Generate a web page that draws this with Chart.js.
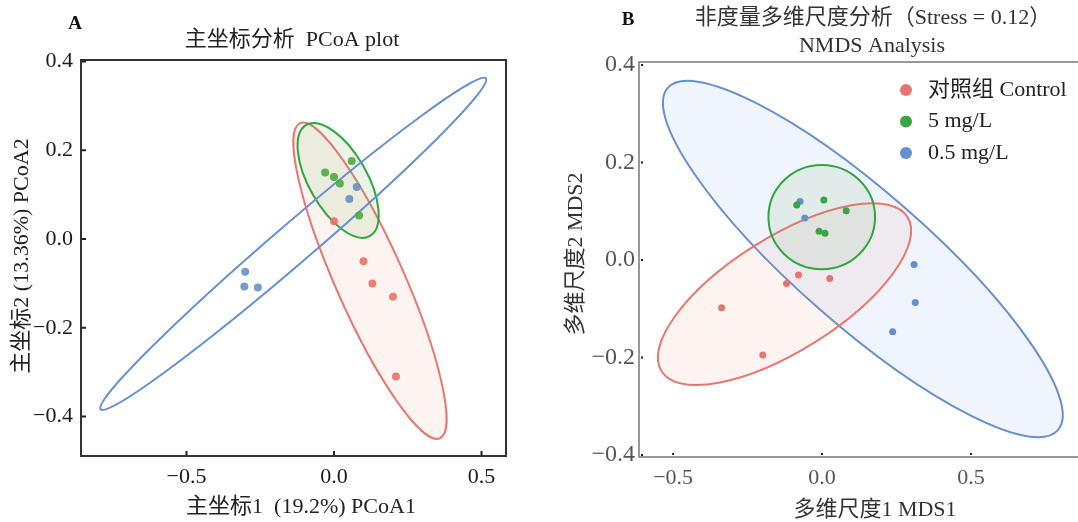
<!DOCTYPE html>
<html>
<head>
<meta charset="utf-8">
<script src="https://cdn.jsdelivr.net/npm/chart.js@4.4.1/dist/chart.umd.min.js"></script>
<style>
  html, body { margin: 0; padding: 0; background: #fff; overflow: hidden; }
  #pcoa { position: absolute; left: 0; top: 0; }
  #nmds { position: absolute; left: 539px; top: 0; }
</style>
</head>
<body>
<canvas id="pcoa" width="539" height="522"></canvas>
<canvas id="nmds" width="571" height="522"></canvas>
<script>
// 分组
const groupLabels = ['对照组 Control', '5 mg/L', '0.5 mg/L'];

// A: PCoA 样本坐标 [x, y]
const pcoaControl = [[0.00, 0.04], [0.10, -0.05], [0.13, -0.10], [0.20, -0.13], [0.21, -0.31]];
const pcoa5mg = [[-0.03, 0.15], [0.00, 0.14], [0.02, 0.125], [0.06, 0.176], [0.085, 0.053]];
const pcoa05mg = [[0.077, 0.117], [0.052, 0.090], [-0.301, -0.074], [-0.304, -0.107], [-0.258, -0.109]];

// 置信椭圆: [中心x, 中心y, 长轴端点x, 长轴端点y, 短轴端点x, 短轴端点y]
const pcoaEllControl = [0.122, -0.094, 0.359, -0.449, 0.228, -0.063];
const pcoaEll5mg = [0.014, 0.132, 0.122, 0.007, 0.099, 0.165];
const pcoaEll05mg = [-0.138, -0.011, 0.515, 0.362, -0.095, -0.044];

// B: NMDS 样本坐标
const nmdsControl = [[-0.079, -0.031], [-0.119, -0.048], [0.026, -0.038], [-0.337, -0.098], [-0.199, -0.195]];
const nmds5mg = [[-0.085, 0.113], [0.006, 0.123], [0.081, 0.101], [-0.010, 0.059], [0.010, 0.055]];
const nmds05mg = [[-0.074, 0.120], [-0.058, 0.086], [0.309, -0.009], [0.313, -0.087], [0.237, -0.147]];

const nmdsEllControl = [-0.126, -0.070, 0.287, 0.088, -0.025, -0.169];
const nmdsEll5mg = [-0.001, 0.088, 0.178, 0.088, -0.001, 0.195];
const nmdsEll05mg = [0.137, 0.002, 0.792, -0.349, 0.284, 0.104];

// 颜色
const cRed = '#E8776F', cGreen = '#2FA740', cBlue = '#6690D0';
const serif = '"Liberation Serif", "Noto Sans CJK SC", serif';

const fmt = v => (v < 0 ? '\u2212' : '') + Math.abs(v).toFixed(1);
const toPts = arr => arr.map(p => ({ x: p[0], y: p[1] }));

// 椭圆插件：用坐标轴换算中心和两个半轴端点，再画出椭圆
const ellipsePlugin = {
  id: 'ellipses',
  beforeDatasetsDraw(chart, args, opts) {
    const { ctx, chartArea } = chart;
    const sx = chart.scales.x, sy = chart.scales.y;
    ctx.save();
    ctx.beginPath();
    ctx.rect(chartArea.left, chartArea.top, chartArea.width, chartArea.height);
    ctx.clip();
    opts.items.forEach(e => {
      const [cx, cy, ax, ay, bx, by] = e.data;
      const px = sx.getPixelForValue(cx), py = sy.getPixelForValue(cy);
      const ux = sx.getPixelForValue(ax) - px, uy = sy.getPixelForValue(ay) - py;
      const vx = sx.getPixelForValue(bx) - px, vy = sy.getPixelForValue(by) - py;
      ctx.save();
      ctx.transform(ux, uy, vx, vy, px, py);
      ctx.beginPath();
      ctx.arc(0, 0, 1, 0, Math.PI * 2);
      ctx.restore();
      if (e.fill) { ctx.fillStyle = e.fill; ctx.fill(); }
      ctx.lineWidth = e.width;
      ctx.strokeStyle = e.stroke;
      ctx.stroke();
    });
    ctx.restore();
  }
};

// 边框和向内的刻度线
const framePlugin = {
  id: 'frame',
  afterDatasetsDraw(chart, args, o) {
    const { ctx, chartArea: a } = chart;
    const sx = chart.scales.x, sy = chart.scales.y;
    ctx.save();
    ctx.strokeStyle = o.color;
    ctx.lineWidth = o.width;
    ctx.strokeRect(a.left, a.top, a.right - a.left, a.bottom - a.top);
    ctx.fillStyle = o.tickColor;
    sy.ticks.forEach(t => {
      const y = sy.getPixelForValue(t.value);
      ctx.fillRect(a.left + o.tickGap, y - 1, o.tickLen, 2);
    });
    sx.ticks.forEach(t => {
      const x = sx.getPixelForValue(t.value);
      ctx.fillRect(x - 1, a.bottom - o.tickGap - o.tickLen, 2, o.tickLen);
    });
    ctx.restore();
  }
};

// 标题、轴标题、图例
const textPlugin = {
  id: 'panelText',
  afterDraw(chart, args, o) {
    const ctx = chart.ctx;
    ctx.save();
    ctx.textAlign = 'center';
    ctx.textBaseline = 'middle';
    o.items.forEach(t => {
      ctx.save();
      ctx.font = t.font;
      ctx.fillStyle = t.color;
      ctx.translate(t.x, t.y);
      if (t.rotate) ctx.rotate(t.rotate);
      ctx.fillText(t.text, 0, 0);
      ctx.restore();
    });
    if (o.legend) {
      const L = o.legend;
      chart.data.datasets.forEach((ds, i) => {
        const y = L.y + i * L.gap;
        ctx.beginPath();
        ctx.arc(L.x, y, L.r, 0, Math.PI * 2);
        ctx.fillStyle = ds.backgroundColor;
        ctx.fill();
        ctx.textAlign = 'left';
        ctx.font = L.font;
        ctx.fillStyle = L.color;
        ctx.fillText(ds.label, L.x + L.textGap, y);
      });
    }
    ctx.restore();
  }
};

function scaleOpts(min, max, step, fontSize, color, pad, fitSize, horizontal) {
  return {
    type: 'linear',
    min: min,
    max: max,
    grid: { display: false, drawTicks: false },
    border: { display: false },
    ticks: {
      stepSize: step,
      includeBounds: false,
      padding: pad,
      color: color,
      font: { family: serif, size: fontSize },
      callback: fmt
    },
    afterFit(s) {
      if (horizontal) s.height = fitSize; else s.width = fitSize;
    }
  };
}

// A: PCoA
new Chart(document.getElementById('pcoa'), {
  type: 'scatter',
  data: {
    datasets: [
      { label: groupLabels[0], data: toPts(pcoaControl), backgroundColor: 'rgba(232,114,106,0.9)' },
      { label: groupLabels[1], data: toPts(pcoa5mg), backgroundColor: 'rgba(72,168,60,0.88)' },
      { label: groupLabels[2], data: toPts(pcoa05mg), backgroundColor: 'rgba(100,140,200,0.88)' }
    ]
  },
  options: {
    responsive: false,
    animation: false,
    devicePixelRatio: 1,
    layout: { padding: { top: 60, right: 33, left: 0, bottom: 0 } },
    elements: { point: { radius: 4, borderWidth: 0, hoverRadius: 4 } },
    scales: {
      x: scaleOpts(-0.8576, 0.583, 0.5, 22, '#1a1a1a', 8, 66, true),
      y: scaleOpts(-0.489, 0.4034, 0.2, 22, '#1a1a1a', 8, 81, false)
    },
    plugins: {
      legend: { display: false },
      tooltip: { enabled: false },
      ellipses: {
        items: [
          { data: pcoaEllControl, stroke: cRed, fill: 'rgba(238,130,112,0.09)', width: 2 },
          { data: pcoaEll5mg, stroke: cGreen, fill: 'rgba(120,180,100,0.14)', width: 2 },
          { data: pcoaEll05mg, stroke: cBlue, fill: null, width: 2 }
        ]
      },
      frame: { color: '#333', width: 2, tickColor: '#222', tickLen: 4, tickGap: 1 },
      panelText: {
        items: [
          { text: 'A', x: 75, y: 24, font: 'bold 19px ' + serif, color: '#111' },
          { text: '主坐标分析  PCoA plot', x: 292, y: 40, font: '22px ' + serif, color: '#222' },
          { text: '主坐标1  (19.2%) PCoA1', x: 301, y: 507, font: '22px ' + serif, color: '#222' },
          { text: '主坐标2 (13.36%) PCoA2', x: 22, y: 256, rotate: -Math.PI / 2, font: '22px ' + serif, color: '#222' }
        ]
      }
    }
  },
  plugins: [ellipsePlugin, framePlugin, textPlugin]
});

// B: NMDS
new Chart(document.getElementById('nmds'), {
  type: 'scatter',
  data: {
    datasets: [
      { label: groupLabels[0], data: toPts(nmdsControl), backgroundColor: '#E8756D' },
      { label: groupLabels[1], data: toPts(nmds5mg), backgroundColor: '#3AA545' },
      { label: groupLabels[2], data: toPts(nmds05mg), backgroundColor: '#648FD0' }
    ]
  },
  options: {
    responsive: false,
    animation: false,
    devicePixelRatio: 1,
    layout: { padding: { top: 62, right: 5, left: 0, bottom: 0 } },
    elements: { point: { radius: 3.5, borderWidth: 0, hoverRadius: 3.5 } },
    scales: {
      x: scaleOpts(-0.6146, 0.95, 0.5, 22, '#555', 8, 65, true),
      y: scaleOpts(-0.4041, 0.4062, 0.2, 24, '#555', 4, 100, false)
    },
    plugins: {
      legend: { display: false },
      tooltip: { enabled: false },
      ellipses: {
        items: [
          { data: nmdsEll05mg, stroke: cBlue, fill: 'rgba(120,155,225,0.11)', width: 2 },
          { data: nmdsEllControl, stroke: cRed, fill: 'rgba(238,130,112,0.09)', width: 2 },
          { data: nmdsEll5mg, stroke: cGreen, fill: 'rgba(110,175,110,0.12)', width: 2 }
        ]
      },
      frame: { color: '#777', width: 1.5, tickColor: '#222', tickLen: 2, tickGap: 2 },
      panelText: {
        items: [
          { text: 'B', x: 89, y: 20, font: 'bold 19px ' + serif, color: '#111' },
          { text: '非度量多维尺度分析（Stress = 0.12）', x: 334, y: 18, font: '22px ' + serif, color: '#333' },
          { text: 'NMDS Analysis', x: 333, y: 46, font: '22px ' + serif, color: '#333' },
          { text: '多维尺度1 MDS1', x: 336, y: 510, font: '22px ' + serif, color: '#333' },
          { text: '多维尺度2 MDS2', x: 37, y: 254, rotate: -Math.PI / 2, font: '22px ' + serif, color: '#333' }
        ],
        legend: { x: 367, y: 90, gap: 31.5, r: 6, textGap: 22, font: '22px ' + serif, color: '#222' }
      }
    }
  },
  plugins: [ellipsePlugin, framePlugin, textPlugin]
});
</script>
</body>
</html>
